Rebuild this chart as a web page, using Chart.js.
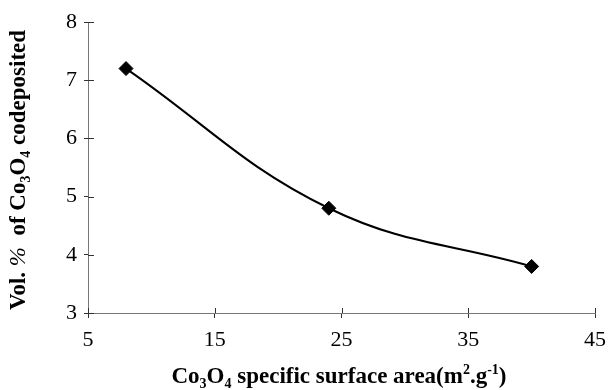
<!DOCTYPE html>
<html>
<head>
<meta charset="utf-8">
<script src="https://cdn.jsdelivr.net/npm/chart.js@4"></script>
<style>
  html, body { margin: 0; padding: 0; background: #fff; }
  #wrap { width: 615px; height: 390px; }
</style>
</head>
<body>
<div id="wrap"><canvas id="canvas" width="615" height="390"></canvas></div>
<script>
// data
var surfaceArea = [8, 24, 40];          // m2/g
var volPercent = [7.2, 4.8, 3.8];       // vol. % codeposited
var xTicks = [5, 15, 25, 35, 45];
var yTicks = [3, 4, 5, 6, 7, 8];

// axis titles as pieces: [text, 'n' | 'i' | 'sub' | 'sup']
var xTitle = [['Co', 'n'], ['3', 'sub'], ['O', 'n'], ['4', 'sub'], [' specific surface area(m', 'n'], ['2', 'sup'], ['.g', 'n'], ['-1', 'sup'], [')', 'n']];
var yTitle = [['Vol. ', 'n'], ['%', 'i'], ['  of Co', 'n'], ['3', 'sub'], ['O', 'n'], ['4', 'sub'], [' codeposited', 'n']];

var serif = '"Liberation Serif", "Times New Roman", serif';

function richFont(kind, size) {
  if (kind == 'sub' || kind == 'sup') return 'bold ' + Math.round(size * 0.62) + 'px ' + serif;
  if (kind == 'i') return 'italic ' + size + 'px ' + serif;
  return 'bold ' + size + 'px ' + serif;
}

function drawRich(ctx, parts, size) {
  // draws centred on 0, baseline at 0
  var total = 0;
  parts.forEach(function(p) {
    ctx.font = richFont(p[1], size);
    total += ctx.measureText(p[0]).width;
  });
  var x = -total / 2;
  parts.forEach(function(p) {
    ctx.font = richFont(p[1], size);
    var dy = 0;
    if (p[1] == 'sub') dy = size * 0.22;
    if (p[1] == 'sup') dy = -size * 0.38;
    ctx.fillText(p[0], x, dy);
    x += ctx.measureText(p[0]).width;
  });
}

// titles + inner half of the tick marks
var extras = {
  id: 'extras',
  afterDraw: function(chart) {
    var ctx = chart.ctx;
    var area = chart.chartArea;
    var xs = chart.scales.x, ys = chart.scales.y;
    ctx.save();
    ctx.strokeStyle = '#333';
    ctx.lineWidth = 1;
    ctx.beginPath();
    yTicks.forEach(function(v) {
      var py = Math.round(ys.getPixelForValue(v)) + 0.5;
      ctx.moveTo(area.left, py);
      ctx.lineTo(area.left + 6, py);
    });
    xTicks.forEach(function(v) {
      var px = Math.round(xs.getPixelForValue(v)) + 0.5;
      ctx.moveTo(px, area.bottom);
      ctx.lineTo(px, area.bottom - 5);
    });
    ctx.stroke();

    ctx.fillStyle = '#000';
    ctx.textAlign = 'left';
    ctx.textBaseline = 'alphabetic';
    ctx.save();
    ctx.translate(339, 383);
    drawRich(ctx, xTitle, 23);
    ctx.restore();
    ctx.save();
    ctx.translate(25, 170);
    ctx.rotate(-Math.PI / 2);
    drawRich(ctx, yTitle, 23);
    ctx.restore();
    ctx.restore();
  }
};

var ctx = document.getElementById('canvas').getContext('2d');
var points = surfaceArea.map(function(x, i) {
  return { x: x, y: volPercent[i] };
});

var config = {
  type: 'scatter',
  data: {
    datasets: [{
      data: points,
      showLine: true,
      tension: 0.4,
      borderColor: '#000',
      borderWidth: 2,
      backgroundColor: '#000',
      pointStyle: 'rectRot',
      pointRadius: 7,
      pointBorderWidth: 1,
      pointBorderColor: '#000'
    }]
  },
  options: {
    responsive: false,
    animation: false,
    layout: { padding: { top: 22, right: 13, left: 0, bottom: 0 } },
    plugins: { legend: { display: false }, tooltip: { enabled: false } },
    scales: {
      x: {
        type: 'linear',
        min: 5, max: 45,
        afterBuildTicks: function(s) { s.ticks = xTicks.map(function(v) { return { value: v }; }); },
        afterFit: function(s) { s.height = 77; },
        grid: { drawOnChartArea: false, tickLength: 5, color: '#333' },
        border: { color: '#777', width: 1 },
        ticks: { color: '#000', padding: 9, maxRotation: 0, font: { family: serif, size: 22 } }
      },
      y: {
        type: 'linear',
        min: 3, max: 8,
        afterBuildTicks: function(s) { s.ticks = yTicks.map(function(v) { return { value: v }; }); },
        afterFit: function(s) { s.width = 88; },
        grid: { drawOnChartArea: false, tickLength: 4, color: '#333' },
        border: { color: '#777', width: 1 },
        ticks: { color: '#000', padding: 7, font: { family: serif, size: 22 } }
      }
    }
  },
  plugins: [extras]
};
var chart = new Chart(ctx, config);
</script>
</body>
</html>
